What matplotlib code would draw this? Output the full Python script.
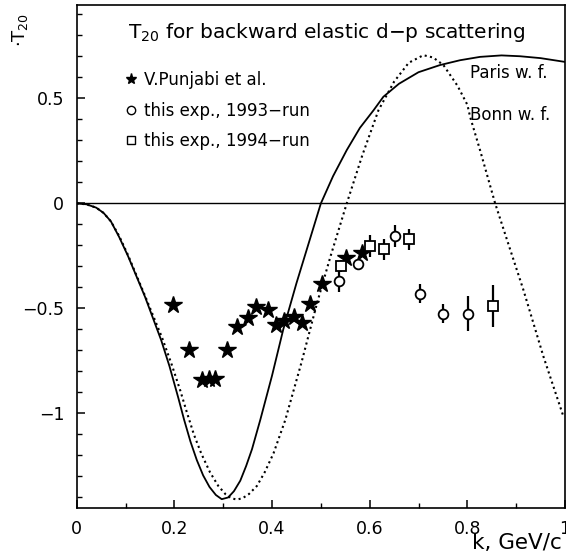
import matplotlib.pyplot as plt
from matplotlib.lines import Line2D

# Punjabi et al. points (stars)
k_punjabi = [0.197, 0.230, 0.256, 0.270, 0.283, 0.307, 0.329, 0.350, 0.367, 0.391,
             0.408, 0.425, 0.444, 0.461, 0.477, 0.503, 0.552, 0.584]
t20_punjabi = [-0.485, -0.70, -0.84, -0.837, -0.837, -0.70, -0.588, -0.543, -0.495, -0.508,
               -0.58, -0.559, -0.54, -0.567, -0.481, -0.382, -0.259, -0.235]

# this exp., 1993-run (circles)
k_1993 = [0.538, 0.576, 0.652, 0.703, 0.750, 0.801]
t20_1993 = [-0.370, -0.290, -0.154, -0.429, -0.524, -0.524]
err_1993 = [0.05, 0.02, 0.052, 0.046, 0.045, 0.083]

# this exp., 1994-run (squares)
k_1994 = [0.542, 0.601, 0.630, 0.680, 0.852]
t20_1994 = [-0.297, -0.203, -0.219, -0.170, -0.489]
err_1994 = [0.03, 0.052, 0.05, 0.05, 0.10]

# Paris w.f. (solid)
k_paris = [0.0, 0.02, 0.04, 0.055, 0.07, 0.087, 0.105, 0.14, 0.173, 0.19, 0.208, 0.22,
           0.233, 0.246, 0.259, 0.272, 0.285, 0.297, 0.31, 0.322, 0.335, 0.347, 0.359,
           0.376, 0.40, 0.423, 0.45, 0.475, 0.50, 0.525, 0.553, 0.58, 0.608, 0.628,
           0.66, 0.70, 0.744, 0.785, 0.826, 0.87, 0.908, 0.95, 1.0]
t20_paris = [0.0, -0.004, -0.02, -0.045, -0.085, -0.16, -0.25, -0.445, -0.651, -0.775, -0.925, -1.03,
             -1.134, -1.222, -1.295, -1.35, -1.388, -1.408, -1.40, -1.37, -1.32, -1.25, -1.17,
             -1.03, -0.82, -0.60, -0.38, -0.19, 0.0, 0.13, 0.254, 0.36, 0.444, 0.508,
             0.57, 0.625, 0.659, 0.682, 0.698, 0.705, 0.701, 0.692, 0.674]

# Bonn w.f. (dotted)
k_bonn = [0.0, 0.02, 0.04, 0.055, 0.07, 0.087, 0.105, 0.14, 0.175, 0.195, 0.212, 0.225,
          0.24, 0.255, 0.273, 0.29, 0.305, 0.316, 0.328, 0.34, 0.353, 0.369, 0.385, 0.403,
          0.427, 0.46, 0.492, 0.52, 0.553, 0.585, 0.618, 0.65, 0.68, 0.71, 0.73, 0.751,
          0.78, 0.80, 0.806, 0.826, 0.857, 0.885, 0.915, 0.956, 0.997]
t20_bonn = [0.0, -0.004, -0.02, -0.045, -0.085, -0.155, -0.245, -0.44, -0.64, -0.77, -0.89, -0.99,
            -1.10, -1.19, -1.28, -1.345, -1.385, -1.403, -1.41, -1.403, -1.383, -1.345, -1.28, -1.19,
            -1.032, -0.76, -0.476, -0.25, 0.0, 0.23, 0.444, 0.58, 0.67, 0.706, 0.695, 0.659,
            0.56, 0.47, 0.41, 0.254, 0.0, -0.2, -0.413, -0.73, -1.016]

W, H = 566, 557
fig = plt.figure(figsize=(W / 100, H / 100), dpi=100)
ax = fig.add_axes([76.7 / W, 1 - 508 / H, 488.3 / W, 503 / H])

ax.axhline(0, color='black', lw=1.0)
ax.plot(k_paris, t20_paris, color='black', lw=1.3)
ax.plot(k_bonn, t20_bonn, color='black', lw=1.5, linestyle=(0, (1, 1.6)))

ax.plot(k_punjabi, t20_punjabi, linestyle='none', marker='*', color='black', ms=13)
ax.errorbar(k_1993, t20_1993, yerr=err_1993, fmt='o', color='black', mfc='white',
            ms=7, mew=1.3, elinewidth=1.6, capsize=0, zorder=5)
ax.errorbar(k_1994, t20_1994, yerr=err_1994, fmt='s', color='black', mfc='white',
            ms=7.5, mew=1.3, elinewidth=1.6, capsize=0, zorder=5)

ax.set_xlim(0, 1)
ax.set_ylim(-1.45, 0.945)
ax.set_xticks([0, 0.2, 0.4, 0.6, 0.8, 1.0])
ax.set_xticklabels(['0', '0.2', '0.4', '0.6', '0.8', '1'])
ax.set_yticks([-1, -0.5, 0, 0.5])
ax.set_yticklabels(['\u22121', '\u22120.5', '0', '0.5'])
ax.set_xticks([0.1, 0.3, 0.5, 0.7, 0.9], minor=True)
ax.set_yticks([-1.4, -1.3, -1.2, -1.1, -0.9, -0.8, -0.7, -0.6, -0.4, -0.3, -0.2, -0.1,
               0.1, 0.2, 0.3, 0.4, 0.6, 0.7, 0.8, 0.9], minor=True)
ax.tick_params(which='both', direction='in', labelsize=12.5, top=False, right=False)
ax.tick_params(which='major', length=6, width=1.1)
ax.tick_params(which='minor', length=3.5, width=1.0)
ax.tick_params(axis='x', pad=9)
ax.tick_params(axis='y', pad=9)
for s in ax.spines.values():
    s.set_linewidth(1.2)

ax.text(0.105, 0.946, r'T$_{20}$ for backward elastic d$-$p scattering',
        transform=ax.transAxes, fontsize=14.5, va='center', ha='left')
ax.text(0.806, 0.865, 'Paris w. f.', transform=ax.transAxes, fontsize=12, va='center')
ax.text(0.806, 0.781, 'Bonn w. f.', transform=ax.transAxes, fontsize=12, va='center')

handles = [
    Line2D([], [], linestyle='none', marker='*', color='black', ms=8),
    Line2D([], [], linestyle='none', marker='o', color='black', mfc='white', ms=6),
    Line2D([], [], linestyle='none', marker='s', color='black', mfc='white', ms=6),
]
labels = ['V.Punjabi et al.', 'this exp., 1993\u2212run', 'this exp., 1994\u2212run']
ax.legend(handles, labels, loc='upper left', bbox_to_anchor=(0.101, 0.869), frameon=False,
          fontsize=12, handlelength=0.6, handletextpad=0.45, labelspacing=0.76,
          borderaxespad=0, borderpad=0)

fig.text(20 / W, 1 - 30 / H, r'$\cdot$T$_{20}$', rotation=90, fontsize=13,
         ha='center', va='center')
fig.text(562 / W, 1 - 543 / H, 'k, GeV/c', fontsize=15.5, ha='right', va='center')

fig.savefig('out.png', dpi=100)
